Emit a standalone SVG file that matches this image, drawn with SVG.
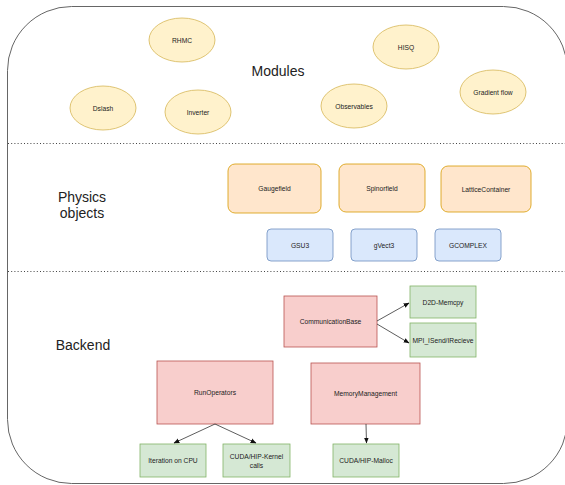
<svg xmlns="http://www.w3.org/2000/svg" width="565" height="485" viewBox="0 0 565 485">
<style>
.t{font-family:"Liberation Sans",Arial,sans-serif;font-size:6.7px;fill:#222;text-anchor:middle;dominant-baseline:central}
.big{font-family:"Liberation Sans",Arial,sans-serif;font-size:14px;fill:#222;text-anchor:middle;dominant-baseline:central}
.mod{fill:#fff2cc;stroke:#d6b656;stroke-width:0.8}
.phys{fill:#ffe6cc;stroke:#d79b00;stroke-width:0.8}
.blue{fill:#dae8fc;stroke:#6c8ebf;stroke-width:0.8}
.red{fill:#f8cecc;stroke:#b85450;stroke-width:0.8}
.green{fill:#d5e8d4;stroke:#82b366;stroke-width:0.8}
.sep{stroke:#444;stroke-width:1;stroke-dasharray:1 2.2}
.edge{stroke:#333;stroke-width:0.8;fill:none;marker-end:url(#ah)}
</style>
<defs>
<marker id="ah" viewBox="0 0 10 10" refX="9" refY="5" markerWidth="6" markerHeight="6" markerUnits="userSpaceOnUse" orient="auto">
<path d="M0,1 L10,5 L0,9 Z" fill="#111"/>
</marker>
</defs>
<rect width="565" height="485" fill="#fff"/>
<g id="frame">
<rect x="7.5" y="6.5" width="560" height="477" rx="64" ry="64" fill="none" stroke="#666" stroke-width="1"/>
<line class="sep" x1="8" y1="143.5" x2="565" y2="143.5"/>
<line class="sep" x1="8" y1="271.5" x2="565" y2="271.5"/>
<text class="big" x="278" y="71">Modules</text>
<text class="big" x="82" y="197">Physics</text>
<text class="big" x="82" y="213">objects</text>
<text class="big" x="83" y="345">Backend</text>
</g>
<g id="rhmc"><ellipse class="mod" cx="182" cy="40" rx="33" ry="22"/><text class="t" x="182" y="40">RHMC</text></g>
<g id="hisq"><ellipse class="mod" cx="406" cy="47" rx="33" ry="22"/><text class="t" x="406" y="47">HISQ</text></g>
<g id="dslash"><ellipse class="mod" cx="103" cy="108" rx="33" ry="22"/><text class="t" x="103" y="108">Dslash</text></g>
<g id="inverter"><ellipse class="mod" cx="198" cy="112" rx="33" ry="22"/><text class="t" x="198" y="112">Inverter</text></g>
<g id="observables"><ellipse class="mod" cx="354" cy="106" rx="33" ry="22"/><text class="t" x="354" y="106">Observables</text></g>
<g id="gradientflow"><ellipse class="mod" cx="493" cy="92" rx="33" ry="22"/><text class="t" x="493" y="92">Gradient flow</text></g>
<g id="gaugefield"><rect class="phys" x="228" y="164" width="93" height="49" rx="7"/><text class="t" x="274.5" y="188.5">Gaugefield</text></g>
<g id="spinorfield"><rect class="phys" x="339" y="164" width="86" height="48" rx="7"/><text class="t" x="382" y="188">Spinorfield</text></g>
<g id="latticecontainer"><rect class="phys" x="441" y="166" width="90" height="46" rx="7"/><text class="t" x="486" y="189">LatticeContainer</text></g>
<g id="gsu3"><rect class="blue" x="267" y="229" width="66" height="32" rx="4"/><text class="t" x="300" y="245">GSU3</text></g>
<g id="gvect3"><rect class="blue" x="351" y="229" width="66" height="32" rx="4"/><text class="t" x="384" y="245">gVect3</text></g>
<g id="gcomplex"><rect class="blue" x="435" y="229" width="66" height="32" rx="4"/><text class="t" x="468" y="245">GCOMPLEX</text></g>
<g id="communicationbase"><rect class="red" x="284" y="296" width="93" height="51"/><text class="t" x="330.5" y="321.5">CommunicationBase</text></g>
<g id="runoperators"><rect class="red" x="157" y="361" width="116" height="63"/><text class="t" x="215" y="392.5">RunOperators</text></g>
<g id="memorymanagement"><rect class="red" x="311" y="363" width="109" height="61"/><text class="t" x="365.5" y="393.5">MemoryManagement</text></g>
<g id="d2dmemcpy"><rect class="green" x="410" y="286" width="66" height="32"/><text class="t" x="443" y="302">D2D-Memcpy</text></g>
<g id="mpi"><rect class="green" x="410" y="323" width="66" height="34"/><text class="t" x="443" y="340">MPI_ISend/IRecieve</text></g>
<g id="iterationcpu"><rect class="green" x="140" y="444" width="66" height="33"/><text class="t" x="173" y="460.5">Iteration on CPU</text></g>
<g id="kernelcalls"><rect class="green" x="223" y="444" width="67" height="33"/><text class="t" x="256.5" y="456">CUDA/HIP-Kernel</text><text class="t" x="256.5" y="465">calls</text></g>
<g id="malloc"><rect class="green" x="333" y="444" width="66" height="33"/><text class="t" x="366" y="460.5">CUDA/HIP-Malloc</text></g>
<g id="connectors">
<path class="edge" d="M377,321 L409,303"/>
<path class="edge" d="M377,324 L409,343"/>
<path class="edge" d="M215,424 L174,443"/>
<path class="edge" d="M215,424 L256,443"/>
<path class="edge" d="M366,424 L366.5,443"/>
</g>
</svg>
